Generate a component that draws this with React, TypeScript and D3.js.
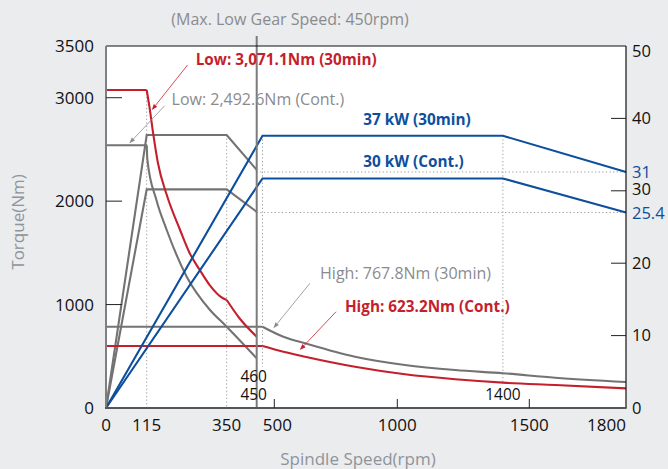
import React from 'react';
import * as d3 from 'd3';

// ---------- data ----------
const rpmKnots = [0, 115, 350, 450, 460, 500, 1000, 1500, 1800];
const xTickValues = [0, 115, 350, 500, 1000, 1500, 1800];
const xMinorTicks = [500, 1000, 1500];
const torqueTicks = [0, 1000, 2000, 3000, 3500];
const torqueInnerTicks = [1000, 2000, 3000];
const powerTicks = [0, 10, 20, 30, 40, 50];
const powerInnerTicks = [10, 20, 30, 40];

// torque curves [rpm, Nm]
const lowTorque30Flat = [[0, 3075], [115, 3075]];
const lowTorque30Drop = [[115, 3075], [123, 2913], [134, 2656], [148, 2369], [174, 2059], [213, 1721], [241, 1499], [271, 1334], [300, 1189], [339, 1061], [350, 1044]];
const lowTorque30End = [[350, 1044], [392, 870], [450, 689]];

const lowTorqueContFlat = [[0, 2540], [115, 2540]];
const lowTorqueContDrop = [[115, 2540], [117, 2400], [143.5, 2011], [173.8, 1721], [232.5, 1270], [301, 948], [345, 802], [450, 480]];

const highTorque30Flat = [[0, 786], [460, 786]];
const highTorque30Drop = [[460, 786], [537, 689], [625, 626], [828, 496], [1029, 416], [1219, 367], [1400, 336], [1580, 293], [1800, 251]];

const highTorqueContFlat = [[0, 600], [460, 600]];
const highTorqueContDrop = [[460, 600], [537, 544], [625, 496], [828, 399], [1029, 326], [1219, 278], [1400, 245], [1580, 222], [1800, 190]];

// power curves [rpm, kW]
const lowPower30 = [[0, 0], [115, 37.7], [350, 37.7], [450, 32.9]];
const lowPowerCont = [[0, 0], [115, 30.2], [350, 30.2], [450, 27.1]];
const highPower30 = [[0, 0], [460, 37.6], [1400, 37.6], [1800, 32.6]];
const highPowerCont = [[0, 0], [460, 31.7], [1400, 31.7], [1800, 27.0]];

const endPowerLabels = ['31', '25.4'];

const COLORS = {
  bg: '#ebeced',
  red: '#c41f2d',
  blue: '#0d4f9d',
  gray: '#737373',
  annoGray: '#8a8b8f',
  titleGray: '#8e949b',
  dot: '#9a9a9a',
};

const FONT = "'Open Sans', 'Noto Sans', sans-serif";

export default function App() {
  const left = 106, right = 626, top = 46, bottom = 408;
  const x = d3.scaleLinear().domain(rpmKnots).range([106, 146.7, 226.7, 256.7, 262.5, 274.3, 397.3, 529.3, 626]);
  const yT = d3.scaleLinear().domain([0, 3500]).range([bottom, top]);
  const yP = d3.scaleLinear().domain([0, 50]).range([bottom, top]);

  const lineT = d3.line<number[]>().x(d => x(d[0])).y(d => yT(d[1])).curve(d3.curveMonotoneX);
  const lineTLin = d3.line<number[]>().x(d => x(d[0])).y(d => yT(d[1]));
  const lineP = d3.line<number[]>().x(d => x(d[0])).y(d => yP(d[1]));

  const curveStroke = 2.1;

  const arrows = [
    { from: [235, 3316], to: [130, 2881], color: COLORS.red },
    { from: [167, 2920], to: [66, 2559], color: '#8c8c8c' },
    { from: [645, 1206], to: [497, 771], color: '#8c8c8c' },
    { from: [751, 931], to: [604, 561], color: COLORS.red },
  ];

  const annos = [
    { text: 'Low: 3,071.1Nm (30min)', at: [259, 3316], color: COLORS.red, bold: true, size: 15.3 },
    { text: 'Low: 2,492.6Nm (Cont.)', at: [188, 2930], color: COLORS.annoGray, bold: false, size: 16 },
    { text: '37 kW (30min)', at: [862, 2736], color: COLORS.blue, bold: true, size: 15.3 },
    { text: '30 kW (Cont.)', at: [862, 2333], color: COLORS.blue, bold: true, size: 15.3 },
    { text: 'High: 767.8Nm (30min)', at: [686, 1244], color: COLORS.annoGray, bold: false, size: 16 },
    { text: 'High: 623.2Nm (Cont.)', at: [787, 928], color: COLORS.red, bold: true, size: 15.3 },
  ];

  const arrowHead = (a: any, i: number) => {
    const x1 = x(a.from[0]), y1 = yT(a.from[1]), x2 = x(a.to[0]), y2 = yT(a.to[1]);
    const ang = Math.atan2(y2 - y1, x2 - x1);
    const L = 6, Wd = 2.2;
    const bx = x2 - L * Math.cos(ang), by = y2 - L * Math.sin(ang);
    const p1 = [bx + Wd * Math.sin(ang), by - Wd * Math.cos(ang)];
    const p2 = [bx - Wd * Math.sin(ang), by + Wd * Math.cos(ang)];
    return (
      <g key={'ar' + i}>
        <line x1={x1} y1={y1} x2={bx} y2={by} stroke={a.color} strokeWidth={0.8} />
        <polygon points={`${x2},${y2} ${p1[0]},${p1[1]} ${p2[0]},${p2[1]}`} fill={a.color} />
      </g>
    );
  };

  const dotted = { stroke: COLORS.dot, strokeWidth: 1, strokeDasharray: '1.2 2.4' };

  return (
    <svg width={668} height={469} style={{ position: 'absolute', left: 0, top: 0 }} fontFamily={FONT}>
      <rect x={0} y={0} width={668} height={469} fill={COLORS.bg} />
      <rect x={left} y={top} width={right - left} height={bottom - top} fill="#fff" />

      {/* dotted guides */}
      <line x1={x(115)} x2={x(115)} y1={yT(lowTorque30Flat[1][1])} y2={bottom} {...dotted} />
      <line x1={x(350)} x2={x(350)} y1={yP(lowPower30[1][1])} y2={bottom} {...dotted} />
      <line x1={x(460)} x2={x(460)} y1={yP(highPower30[1][1])} y2={yT(400)} {...dotted} />
      <line x1={x(1400)} x2={x(1400)} y1={yP(highPower30[2][1])} y2={yT(250)} {...dotted} />
      <line x1={x(450)} x2={right} y1={yP(highPower30[3][1])} y2={yP(highPower30[3][1])} {...dotted} />
      <line x1={x(450)} x2={right} y1={yP(highPowerCont[3][1])} y2={yP(highPowerCont[3][1])} {...dotted} />

      {/* power curves */}
      <path d={lineP(lowPower30 as any) || ''} fill="none" stroke={COLORS.gray} strokeWidth={curveStroke} />
      <path d={lineP(lowPowerCont as any) || ''} fill="none" stroke={COLORS.gray} strokeWidth={curveStroke} />

      {/* torque curves */}
      <path d={lineTLin(lowTorqueContFlat as any) || ''} fill="none" stroke={COLORS.gray} strokeWidth={curveStroke} />
      <path d={lineT(lowTorqueContDrop as any) || ''} fill="none" stroke={COLORS.gray} strokeWidth={curveStroke} />
      <path d={lineTLin(highTorque30Flat as any) || ''} fill="none" stroke={COLORS.gray} strokeWidth={curveStroke} />
      <path d={lineT(highTorque30Drop as any) || ''} fill="none" stroke={COLORS.gray} strokeWidth={curveStroke} />

      <path d={lineTLin(lowTorque30Flat as any) || ''} fill="none" stroke={COLORS.red} strokeWidth={curveStroke} />
      <path d={lineT(lowTorque30Drop as any) || ''} fill="none" stroke={COLORS.red} strokeWidth={curveStroke} />
      <path d={lineT(lowTorque30End as any) || ''} fill="none" stroke={COLORS.red} strokeWidth={curveStroke} />
      <path d={lineTLin(highTorqueContFlat as any) || ''} fill="none" stroke={COLORS.red} strokeWidth={curveStroke} />
      <path d={lineT(highTorqueContDrop as any) || ''} fill="none" stroke={COLORS.red} strokeWidth={curveStroke} />

      <path d={lineP(highPower30 as any) || ''} fill="none" stroke={COLORS.blue} strokeWidth={curveStroke} />
      <path d={lineP(highPowerCont as any) || ''} fill="none" stroke={COLORS.blue} strokeWidth={curveStroke} />

      {/* max low gear speed line */}
      <line x1={x(450)} x2={x(450)} y1={36} y2={bottom} stroke="#7b7b7e" strokeWidth={2} />
      <text x={290} y={25} textAnchor="middle" fontSize={16} fill={COLORS.annoGray}>(Max. Low Gear Speed: 450rpm)</text>

      {/* frame */}
      <line x1={left} x2={right} y1={top} y2={top} stroke="#111" strokeWidth={1.2} />
      <line x1={right} x2={right} y1={top} y2={bottom} stroke="#111" strokeWidth={1.2} />
      <line x1={left} x2={left} y1={top} y2={bottom} stroke="#7f7f7f" strokeWidth={2} />
      <line x1={left - 1} x2={right + 0.6} y1={bottom} y2={bottom} stroke="#555" strokeWidth={2} />

      {/* left axis */}
      {torqueInnerTicks.map(t => (
        <line key={'lt' + t} x1={left} x2={left + 16} y1={yT(t)} y2={yT(t)} stroke="#222" strokeWidth={1} />
      ))}
      {torqueTicks.map(t => (
        <text key={'ll' + t} x={94} y={yT(t)} dy="0.35em" textAnchor="end" fontSize={17} fill="#111">{t}</text>
      ))}

      {/* right axis */}
      {powerInnerTicks.map(t => (
        <line key={'rt' + t} x1={right - 15} x2={right} y1={yP(t)} y2={yP(t)} stroke="#222" strokeWidth={1} />
      ))}
      {powerTicks.map(t => (
        <text key={'rl' + t} x={632} y={yP(t) + (t === 50 ? 5 : t === 30 ? -1.5 : 0)} dy="0.35em" textAnchor="start" fontSize={16.5} fill="#111">{t}</text>
      ))}
      <text x={632} y={yP(highPower30[3][1])} dy="0.35em" fontSize={16.5} fill={COLORS.blue}>{endPowerLabels[0]}</text>
      <text x={632} y={yP(highPowerCont[3][1]) + 1} dy="0.35em" fontSize={16.5} fill={COLORS.blue}>{endPowerLabels[1]}</text>

      {/* bottom axis */}
      {xMinorTicks.map(t => (
        <line key={'bt' + t} x1={x(t)} x2={x(t)} y1={bottom - 9} y2={bottom} stroke="#222" strokeWidth={1} />
      ))}
      {xTickValues.map((t, i) => (
        <text key={'bl' + t} x={i === xTickValues.length - 1 ? right : x(t) + (t === 500 ? 3 : 0)} y={431} textAnchor={i === xTickValues.length - 1 ? 'end' : 'middle'} fontSize={17} fill="#111">{t}</text>
      ))}
      <text x={x(450) - 3} y={382} textAnchor="middle" fontSize={15.5} fill="#111">460</text>
      <text x={x(450) - 3} y={400} textAnchor="middle" fontSize={15.5} fill="#111">450</text>
      <text x={x(1400)} y={400} textAnchor="middle" fontSize={15.5} fill="#111">1400</text>

      {/* annotations */}
      {arrows.map(arrowHead)}
      {annos.map((a, i) => (
        <text key={'an' + i} x={x(a.at[0])} y={yT(a.at[1])} fontSize={a.size} fontWeight={a.bold ? 700 : 400} fill={a.color}>{a.text}</text>
      ))}

      {/* axis titles */}
      <text x={358} y={465} textAnchor="middle" fontSize={17} fill={COLORS.titleGray}>Spindle Speed(rpm)</text>
      <text transform={`translate(24, 222) rotate(-90)`} textAnchor="middle" fontSize={17} fill={COLORS.titleGray}>Torque(Nm)</text>
    </svg>
  );
}
